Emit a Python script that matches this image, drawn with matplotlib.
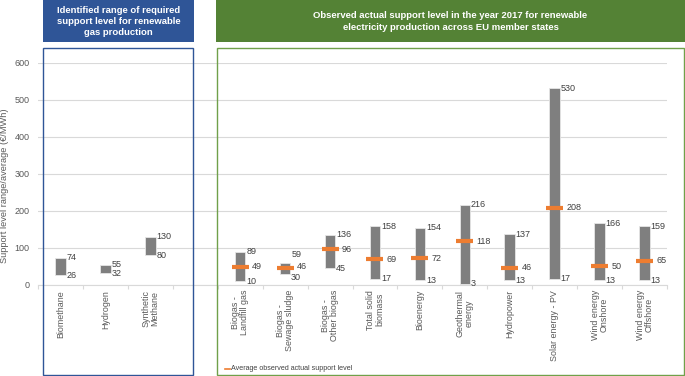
import matplotlib
matplotlib.use('Agg')
import matplotlib.pyplot as plt
from matplotlib.patches import Rectangle
from matplotlib.lines import Line2D

plt.rcParams['font.family'] = ['Liberation Sans', 'DejaVu Sans']

# ---------------- data ----------------
gas_categories = ['Biomethane', 'Hydrogen', 'Synthetic\nMethane']
gas_min = [26, 32, 80]
gas_max = [74, 55, 130]

elec_categories = ['Biogas -\nLandfill gas', 'Biogas -\nSewage sludge', 'Biogas -\nOther biogas',
                   'Total solid\nbiomass', 'Bioenergy', 'Geothermal\nenergy', 'Hydropower',
                   'Solar energy - PV', 'Wind energy\nOnshore', 'Wind energy\nOffshore']
elec_min = [10, 30, 45, 17, 13, 3, 13, 17, 13, 13]
elec_max = [89, 59, 136, 158, 154, 216, 137, 530, 166, 159]
elec_avg = [49, 46, 96, 69, 72, 118, 46, 208, 50, 65]

y_ticks = [0, 100, 200, 300, 400, 500, 600]
y_label = 'Support level range/average (€/MWh)'
gas_header = 'Identified range of required\nsupport level for renewable\ngas production'
elec_header = ('Observed actual support level in the year 2017 for renewable\n'
               'electricity production across EU member states')
legend_label = 'Average observed actual support level'

# ---------------- style ----------------
W, H = 685, 376
BAR = '#7f7f7f'
ORANGE = '#ED7D31'
BLUE = '#2F5597'
GREEN = '#548235'
GREEN_FRAME = '#70A04A'
GRID = '#d9d9d9'
TXT = '#404040'
TICK = '#595959'

fig = plt.figure(figsize=(W / 100, H / 100), dpi=100)


def fx(x):
    return x / W


def fy(y):
    return 1 - y / H


def frect(x0, y0, x1, y1, **kw):
    r = Rectangle((fx(x0), fy(y1)), fx(x1) - fx(x0), fy(y0) - fy(y1),
                  transform=fig.transFigure, **kw)
    fig.patches.append(r)


# frames and headers
frect(42.7, 0, 194, 42, facecolor=BLUE, edgecolor='none')
frect(216, 0, 685, 42, facecolor=GREEN, edgecolor='none')
frect(43, 47.7, 193.5, 375, facecolor='none', edgecolor=BLUE, linewidth=1.0)
frect(216.7, 47.7, 683.8, 375, facecolor='none', edgecolor=GREEN_FRAME, linewidth=1.0)

fig.text(fx(118.4), fy(21.5), gas_header, ha='center', va='center', color='white',
         fontsize=6.8, fontweight='bold', linespacing=1.25)
fig.text(fx(450.5), fy(21.5), elec_header, ha='center', va='center', color='white',
         fontsize=6.8, fontweight='bold', linespacing=1.3)

# axes
ax = fig.add_axes([fx(38), fy(285), (667 - 38) / W, (285 - 62.5) / H])
ax.set_facecolor('none')

n_gas = len(gas_categories)
gas_x = list(range(n_gas))
elec_x = [n_gas + 1 + i for i in range(len(elec_categories))]
n_total = n_gas + 1 + len(elec_categories)

px_per_unit = (667 - 38) / n_total
off_small = 6 / px_per_unit
off_avg = 12 / px_per_unit
bar_w = 10.5 / px_per_unit
avg_half = 8.5 / px_per_unit

ax.set_xlim(-0.5, n_total - 0.5)
ax.set_ylim(0, 600)

ax.bar(gas_x, [b - a for a, b in zip(gas_min, gas_max)], bottom=gas_min, width=bar_w,
       color=BAR, edgecolor='#e6e6e6', linewidth=0.6, zorder=3)
ax.bar(elec_x, [b - a for a, b in zip(elec_min, elec_max)], bottom=elec_min, width=bar_w,
       color=BAR, edgecolor='#e6e6e6', linewidth=0.6, zorder=3)
ax.hlines(elec_avg, [x - avg_half for x in elec_x], [x + avg_half for x in elec_x],
          colors=ORANGE, linewidth=3, zorder=4)

lab = dict(va='center', ha='left', fontsize=6.5, color=TXT, zorder=5)
for x, lo, hi in zip(gas_x, gas_min, gas_max):
    ax.text(x + off_small, hi, str(hi), **lab)
    ax.text(x + off_small, lo, str(lo), **lab)
for x, lo, hi, av in zip(elec_x, elec_min, elec_max, elec_avg):
    hi_pos = max(hi, av + 36)
    lo_pos = min(lo, av - 25)
    av_pos = av + (4 if av - lo < 25 else 0)
    ax.text(x + off_small + (0.02 if hi_pos != hi else 0), hi_pos, str(hi), **lab)
    ax.text(x + off_small, lo_pos, str(lo), **lab)
    ax.text(x + off_avg, av_pos, str(av), **lab)

# grid / axes styling
ax.set_yticks(y_ticks)
ax.yaxis.grid(True, color=GRID, linewidth=0.8, zorder=0)
ax.set_axisbelow(True)
for s in ['left', 'right', 'top']:
    ax.spines[s].set_visible(False)
ax.spines['bottom'].set_color(GRID)
ax.spines['bottom'].set_linewidth(0.8)
ax.tick_params(axis='y', length=0, pad=6, labelsize=6.5, labelcolor=TICK)

ax.set_xticks(gas_x + elec_x)
ax.set_xticklabels(gas_categories + elec_categories, rotation=90, fontsize=6.4,
                   color=TICK, ha='center', va='top', multialignment='center',
                   linespacing=1.0)
ax.tick_params(axis='x', which='major', length=0, pad=3.5)
ax.set_xticks([i - 0.5 for i in range(n_total + 1)], minor=True)
ax.tick_params(axis='x', which='minor', length=3, color=GRID, width=0.8)

fig.text(fx(5), fy(186), y_label, rotation=90, ha='center', va='center',
         fontsize=6.7, color=TICK)

# legend
fig.lines.append(Line2D([fx(225), fx(229.5)], [fy(369), fy(369)], color=ORANGE,
                        linewidth=1.2, transform=fig.transFigure))
fig.text(fx(231), fy(369), legend_label, ha='left', va='center', fontsize=5.1, color=TXT)

fig.savefig('out.png', dpi=100)
